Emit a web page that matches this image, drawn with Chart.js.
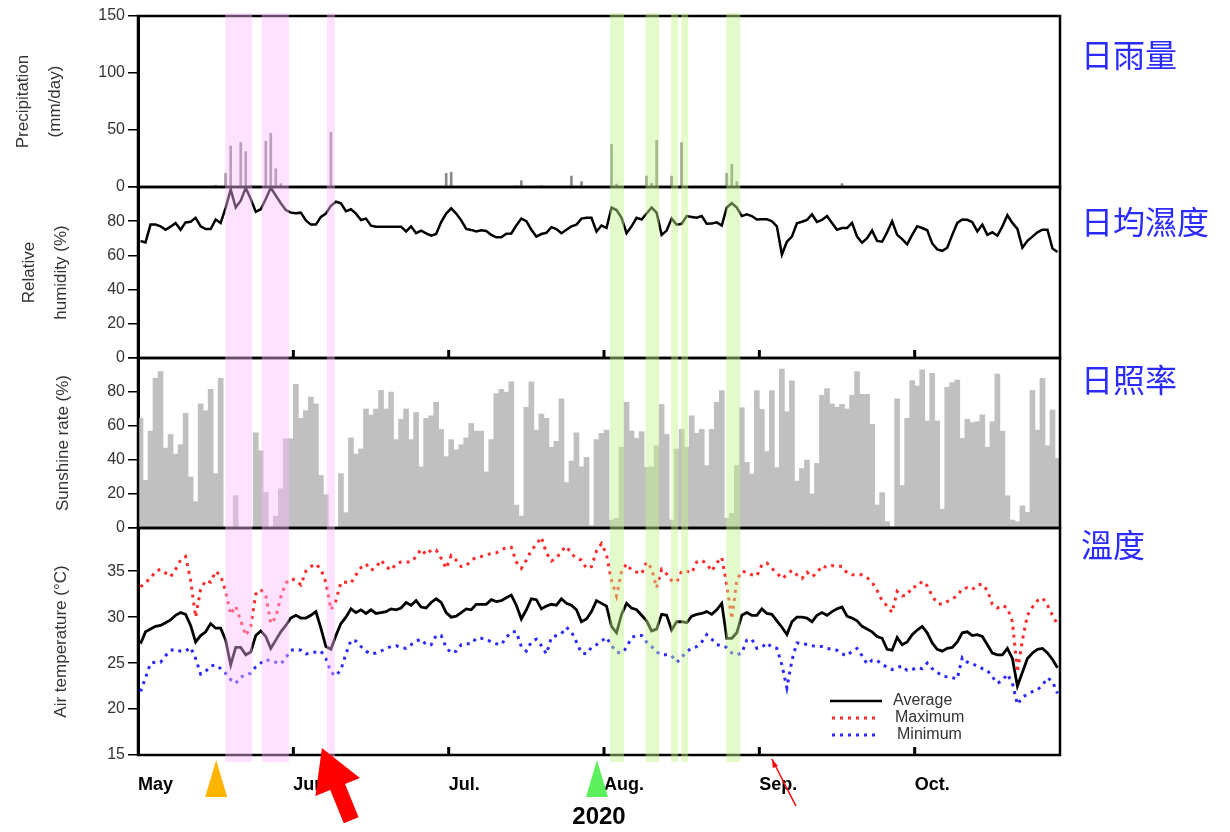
<!DOCTYPE html>
<html>
<head>
<meta charset="utf-8">
<script src="https://cdn.jsdelivr.net/npm/chart.js@4.4.1/dist/chart.umd.min.js"></script>
<style>
  body { margin: 0; background: #fff; }
  #wrap { position: relative; width: 1230px; height: 832px; }
  #wrap canvas { position: absolute; left: 0; top: 0; }
</style>
</head>
<body>
<div id="wrap">
  <canvas id="rain" width="1230" height="832"></canvas>
  <canvas id="humid" width="1230" height="832"></canvas>
  <canvas id="sun" width="1230" height="832"></canvas>
  <canvas id="temp" width="1230" height="832"></canvas>
</div>
<script>
// x axis: days since May 1, 2020 (184 days)
const monthLabels = ['May', 'Jun.', 'Jul.', 'Aug.', 'Sep.', 'Oct.'];
const monthTicks = [0, 31, 62, 93, 124, 155];

// daily rain (mm/day), only rainy days
const rainDays = [15, 17, 18, 20, 21, 22, 25, 26, 27, 28, 38, 61, 62, 75, 76, 80, 86, 88, 94, 95,
  101, 102, 103, 106, 108, 117, 118, 119, 140];
const rainValues = [1.5, 12, 36, 39, 31, 1.5, 40, 47, 16, 3, 48, 12, 13, 1, 5.5, 1, 9.6, 4.7, 37.4, 2.6,
  9.6, 3.2, 41, 9.6, 39, 12, 20, 4.7, 3];

// relative humidity (%)
const humidity = [
  68.4, 67.6, 78, 78, 77, 75, 76.8, 79, 75, 79.3,
  79.7, 82, 77, 75.4, 75.4, 81, 79, 88, 98.6, 88,
  92, 99.5, 93, 85.5, 87, 93, 99.5, 95, 90.5, 86.5,
  85, 84.6, 85, 80.5, 78, 78, 82.5, 84.5, 89, 91.4,
  90.4, 85.8, 87, 84.4, 80.7, 81.5, 77.4, 76.8, 76.8, 76.8,
  76.8, 76.8, 76.8, 74, 77, 73, 74.5, 72.9, 71.5, 72.5,
  79.5, 84.5, 87.5, 84.5, 80.5, 75.5, 74.9, 74, 74.7, 74.3,
  72, 70.6, 70.6, 72.7, 72.8, 77.5, 81.5, 80, 75, 71,
  72.5, 73.2, 76.5, 75.4, 73, 75, 77, 78, 81.5, 82,
  82, 74, 77.5, 76, 88, 86.5, 82, 73, 77, 82,
  81, 84.5, 88, 85, 72, 74.5, 81.5, 78, 78.5, 83,
  82.5, 82, 83, 78.5, 78.6, 79.3, 77.5, 88, 90.5, 88,
  83, 84, 83, 81, 81.1, 81.1, 80, 77, 60.5, 68,
  71, 78.8, 79.7, 80.7, 84, 79.5, 80.7, 83, 79, 75,
  76, 76, 79, 71, 67.4, 70, 74.5, 68.5, 68, 73.5,
  80, 72, 69.5, 66.5, 72, 77, 76, 74.7, 67, 63.5,
  62.7, 64.5, 72, 79, 81, 80.8, 79.4, 74, 78, 72,
  73.5, 71.5, 77, 83.5, 79, 75.5, 64.5, 68.5, 71, 73.5,
  75, 75, 64, 62
];

// sunshine rate (%)
const sunshine = [
  64.5, 28, 57, 88, 92, 47, 55, 43.5, 49, 67.5,
  30, 15.5, 73, 69, 81.5, 32, 88, 0, 0, 19,
  0, 0, 0, 56, 45.5, 21, 0, 7, 23, 52.5,
  52.5, 84.5, 64.5, 69, 77, 73, 31, 19.6, 0, 0,
  32, 9, 53, 43.5, 46.5, 70, 66.5, 70, 81, 70,
  80, 52, 64, 70, 52, 68, 36, 64.5, 66, 74,
  58, 42, 52, 46, 49, 53, 61.5, 57, 57, 33,
  52, 79, 81.5, 80, 86, 13.5, 7, 71, 86, 57.6,
  67, 64.5, 47.5, 51, 76, 26.7, 39.4, 56, 36, 41.6,
  1.4, 52, 55.7, 57.6, 4.7, 5.7, 47.5, 74, 57, 52.7,
  56.7, 35.7, 36, 48.4, 72.7, 55, 4.7, 46.5, 58, 47.5,
  66, 55.7, 58, 36.7, 58, 74, 80.8, 5.7, 8.6, 36.7,
  70.8, 38.6, 31.8, 80.8, 69.8, 45, 80.8, 35.5, 93.5, 68.4,
  86.5, 27.6, 35, 40, 20, 38, 78, 82, 73, 71,
  72.7, 70, 78, 92, 78.6, 78.6, 61, 13.5, 20.8, 3.7,
  0.8, 76, 25, 64.5, 86.7, 83.5, 93, 63, 91, 63,
  11, 82.7, 85.5, 87, 52.7, 64, 62, 62.5, 66.5, 47.5,
  62.5, 90.6, 57, 19, 4.7, 3.7, 13, 9.2, 81, 57.6,
  88, 48.4, 69.4, 41
];

// air temperature (°C)
const tempAvg = [
  27.1, 28.4, 28.7, 29, 29.1, 29.4, 29.7, 30.2, 30.5, 30.3,
  29.1, 27.3, 28, 28.4, 29.3, 28.8, 28.8, 27.5, 24.8, 26.7,
  26.7, 25.9, 26.2, 28, 28.5, 27.9, 26.6, 27.5, 28.4, 29.1,
  29.9, 30.2, 29.9, 29.9, 30.2, 30.6, 28.8, 26.8, 26.5, 28,
  29.3, 30, 30.9, 30.5, 30.8, 30.4, 30.8, 30.4, 30.5, 30.6,
  30.9, 30.8, 31, 31.6, 31.3, 31.8, 31.1, 31, 31.6, 32,
  31.6, 30.5, 30, 30.1, 30.5, 30.9, 30.8, 31.4, 31.4, 31.4,
  31.9, 31.7, 31.8, 32.1, 32.4, 31.3, 29.8, 30.8, 32, 31.9,
  30.9, 31.2, 31.4, 31.3, 32, 31.5, 31.3, 30.8, 29.5, 29.8,
  30.6, 31.8, 31.5, 31.2, 29, 28.3, 30.3, 31.5, 31, 30.8,
  30.2, 29.6, 28.5, 28.7, 30.3, 30.2, 28.6, 29.5, 29.5, 29.4,
  30.1, 30.3, 30.4, 30.6, 30.3, 30.8, 31.5, 27.7, 27.7, 28.3,
  30.2, 30.5, 30.2, 30.2, 30.9, 30.4, 30.3, 29.6, 28.9, 28.1,
  29.5, 30, 30, 29.9, 29.5, 30.2, 30.5, 30.2, 30.6, 30.9,
  31.1, 30.1, 29.9, 29.6, 29, 28.7, 28.4, 27.9, 27.7, 26.5,
  26.4, 27.8, 27, 27.3, 28.1, 28.6, 29, 28.3, 27.2, 26.5,
  26.3, 26.6, 26.7, 27.3, 28.3, 28.4, 28, 28.1, 27.9, 27,
  26.1, 25.9, 25.9, 26.6, 25.5, 22.5, 24, 25.5, 26.1, 26.5,
  26.6, 26.1, 25.4, 24.5
];
const tempMax = [
  33.3, 33.8, 34.2, 35, 35.2, 34.8, 34.4, 35.2, 36.2, 36.6,
  34, 30, 33, 34, 33.8, 35, 34.5, 32.8, 30.3, 31.2,
  29.6, 28, 29, 32.5, 33, 32.4, 29.3, 30, 32.2, 33.7,
  34.2, 34, 33.5, 35, 35.5, 35.8, 35.2, 33.8, 30.8, 31.8,
  33.8, 33.8, 33.7, 34.6, 35.4, 35.8, 35.1, 35.4, 36.2, 35.5,
  35.1, 35.8, 36, 36, 36, 36.6, 37.4, 36.8, 37.3, 37.3,
  36.4, 35.3, 36.7, 36.2, 35.5, 35.6, 36.2, 36.5, 36.6, 36.8,
  36.9, 37, 37.3, 37.6, 37.6, 36, 35.3, 36.2, 37.3, 37.9,
  38.7, 37, 36.1, 36.4, 37.2, 37.7, 36.9, 36.4, 36.2, 35.3,
  35.5, 37.2, 38, 36.8, 34, 32.3, 35, 35.8, 35.1, 34.9,
  34.7, 36, 35.3, 33.2, 35.2, 34.7, 34, 33.8, 35, 35,
  34.8, 36, 36.2, 35.8, 35, 35.9, 36.5, 33.5, 29.8, 34,
  35, 34.9, 34.6, 34.5, 35.7, 35.9, 35.3, 34.8, 34.2, 34.6,
  35.1, 34.6, 34.2, 34.9, 34.4, 34.8, 35.6, 35.4, 35.6, 35.6,
  35.5, 34.8, 34.6, 34.6, 34.6, 34.3, 33.8, 32.9, 31.8, 31.2,
  30.5, 32.8, 32.3, 32.4, 33.3, 33.3, 33.9, 33.4, 32.3, 31.5,
  31.4, 31.7, 32, 32.3, 33.1, 33.2, 33, 33.5, 33.6, 32.9,
  31.4, 31, 31.3, 31, 29.5, 24, 27.5, 30.2, 31.1, 31.8,
  32.1, 31.3, 30.2, 29.2
];
const tempMin = [
  21.9, 23.4, 25, 25.1, 25.1, 25.8, 26.4, 26.5, 26.3, 26.3,
  26.7, 25.5, 23.8, 24.1, 24.7, 24.8, 24.4, 23.9, 23.2, 22.8,
  23.5, 23.7, 23.9, 24.6, 25, 25.4, 25.2, 25.1, 24.9, 25.6,
  26.4, 26.5, 26.4, 26, 26.1, 26.2, 26.3, 25.5, 24, 23.6,
  24.3, 26, 27.5, 27.4, 26.8, 26.3, 26, 26.1, 26.3, 26.6,
  26.8, 26.9, 26.7, 26.6, 27, 27.4, 27.6, 27, 27, 28,
  28, 26.7, 26.1, 26.3, 27, 27.1, 27.1, 27.7, 27.7, 27.6,
  27.3, 27.1, 27, 27.8, 28.4, 28.4, 26.8, 26.3, 27.3, 27.6,
  26.9, 26, 27.8, 28, 28.2, 28.9, 28.4, 27.3, 26.1, 26,
  26.7, 27, 27.4, 27.8, 26.9, 26.2, 26.1, 26.7, 27.8, 28,
  28, 27.3, 26.8, 26.2, 25.9, 25.9, 25.8, 25.1, 25.6, 26.3,
  26.6, 26.8, 27.3, 28.1, 27.6, 27, 26.9, 26.7, 26.1, 25.9,
  26.1, 27.5, 27.6, 26.6, 26.7, 27.2, 26.7, 26.6, 24.8, 22.3,
  25.3, 27.2, 27.2, 27, 26.9, 26.8, 26.8, 26.6, 26.5, 26.4,
  26, 25.8, 26.3, 26.6, 25.8, 24.9, 25.3, 25.3, 24.8, 24.6,
  24.3, 24.5, 24.7, 24.2, 24.3, 24.5, 24.4, 25, 24.4, 24,
  23.6, 23.5, 23.4, 23.3, 25.6, 25.1, 24.9, 24.7, 24.4, 24.2,
  23.5, 22.8, 23.1, 23.8, 22.8, 20.5, 21.3, 21.6, 21.9, 22.1,
  22.6, 23.4, 23, 21.7
];

// shaded rain events (day ranges)
const pinkBands = [[17.4, 22.8], [24.7, 30.1], [37.7, 39.3]];
const greenBands = [[94.2, 97.0], [101.3, 104.0], [106.4, 107.8], [108.4, 109.8], [117.4, 120.2]];
// arrows under the axis (day)
const markerDays = { orange: 15.6, bigArrow: 36.7, green: 91.6, thinArrow: 126.5 };

const panelNames = ['日雨量', '日均濕度', '日照率', '溫度'];

Chart.defaults.font.family = "'Liberation Sans', Arial, sans-serif";
Chart.defaults.color = '#333';
Chart.defaults.animation = false;
Chart.defaults.events = [];
Chart.defaults.plugins.legend.display = false;
Chart.defaults.plugins.tooltip.enabled = false;

const pts = arr => arr.map((v, i) => ({ x: i + 0.5, y: v }));

function yAxis(min, max, step, title, titlePad, hide) {
  return {
    position: 'left',
    min: min, max: max,
    afterFit: s => { s.width = 138; },
    border: { display: true, color: '#000', width: 3 },
    grid: { drawOnChartArea: false, color: '#000', tickLength: 10, lineWidth: 1.5 },
    ticks: {
      stepSize: step, padding: 3, color: '#333', font: { size: 16 },
      callback: v => hide(v) ? '' : v
    },
    title: {
      display: true, text: title, color: '#333',
      font: { size: 17, lineHeight: 1.85 },
      padding: { top: titlePad, bottom: 0 }
    }
  };
}

const hiddenX = () => ({ type: 'linear', min: 0, max: 184, offset: false, display: false });

const framePlugin = {
  id: 'frame',
  afterDraw(chart, args, opts) {
    const { ctx, chartArea: a } = chart;
    ctx.save();
    ctx.strokeStyle = '#000';
    ctx.lineWidth = 2.5;
    ctx.strokeRect(a.left, a.top, a.right - a.left, a.bottom - a.top);
    if (opts.inTicks) {
      const xs = chart.scales.x;
      ctx.lineWidth = 3;
      monthTicks.slice(1).forEach(t => {
        const px = xs.getPixelForValue(t);
        ctx.beginPath();
        ctx.moveTo(px, a.bottom);
        ctx.lineTo(px, a.bottom - 8);
        ctx.stroke();
      });
    }
    ctx.fillStyle = '#2b2bff';
    ctx.font = "32px 'Noto Sans CJK TC'";
    ctx.textBaseline = 'middle';
    ctx.fillText(opts.label, a.right + 21, a.top + opts.labelDy);
    ctx.restore();
  }
};

function panelOptions(top, bottom, x, y, frame) {
  return {
    responsive: false,
    layout: { padding: { left: 0, right: 170, top: top, bottom: bottom } },
    scales: { x: x, y: y },
    plugins: { frame: frame }
  };
}

const rainChart = new Chart(document.getElementById('rain'), {
  type: 'bar',
  data: {
    datasets: [{
      data: rainDays.map((d, i) => ({ x: d + 0.5, y: rainValues[i] })),
      backgroundColor: '#8a8a8a',
      barThickness: 2
    }]
  },
  options: panelOptions(16, 832 - 187, hiddenX(),
    yAxis(0, 150, 50, ['Precipitation', '(mm/day)'], 8, v => false),
    { label: panelNames[0], labelDy: 39 }),
  plugins: [framePlugin]
});

new Chart(document.getElementById('humid'), {
  type: 'line',
  data: {
    datasets: [{
      data: pts(humidity),
      borderColor: '#000', borderWidth: 2.5, pointRadius: 0, tension: 0
    }]
  },
  options: panelOptions(187, 832 - 358, hiddenX(),
    yAxis(0, 100, 20, ['Relative', 'humidity (%)'], 14, v => v === 100),
    { label: panelNames[1], labelDy: 35, inTicks: true }),
  plugins: [framePlugin]
});

new Chart(document.getElementById('sun'), {
  type: 'bar',
  data: {
    datasets: [{
      data: pts(sunshine),
      backgroundColor: '#c0c0c0',
      barPercentage: 1, categoryPercentage: 1
    }]
  },
  options: panelOptions(358, 832 - 528, hiddenX(),
    yAxis(0, 100, 20, 'Sunshine rate (%)', 48, v => v === 100),
    { label: panelNames[2], labelDy: 22 }),
  plugins: [framePlugin]
});

const overlayPlugin = {
  id: 'overlay',
  afterDraw(chart) {
    const { ctx, chartArea: a } = chart;
    const xs = chart.scales.x;
    const top = rainChart.chartArea.top - 3;
    const bottom = a.bottom + 7;
    ctx.save();
    // shaded events
    const band = (list, color) => {
      ctx.fillStyle = color;
      list.forEach(([d0, d1]) => {
        const x0 = xs.getPixelForValue(d0), x1 = xs.getPixelForValue(d1);
        ctx.fillRect(x0, top, x1 - x0, bottom - top);
      });
    };
    band(pinkBands, 'rgba(255, 185, 255, 0.42)');
    band(greenBands, 'rgba(195, 245, 140, 0.45)');

    // legend
    const lx = a.right - 230, tx = a.right - 167;
    const rows = [
      { y: a.bottom - 54, text: 'Average', color: '#000', dash: [], w: 52, dx: 0 },
      { y: a.bottom - 37, text: 'Maximum', color: '#ff2a2a', dash: [3, 5], w: 46, dx: 2 },
      { y: a.bottom - 20, text: 'Minimum', color: '#2a2aff', dash: [3, 5], w: 46, dx: 4 }
    ];
    ctx.font = "16px 'Liberation Sans', Arial, sans-serif";
    ctx.textBaseline = 'middle';
    rows.forEach(r => {
      ctx.strokeStyle = r.color;
      ctx.lineWidth = r.dash.length ? 3 : 2.5;
      ctx.setLineDash(r.dash);
      ctx.beginPath();
      ctx.moveTo(lx + (r.dash.length ? 2 : 0), r.y);
      ctx.lineTo(lx + r.w, r.y);
      ctx.stroke();
      ctx.fillStyle = '#333';
      ctx.fillText(r.text, tx + r.dx, r.y);
    });
    ctx.setLineDash([]);

    // triangles under the axis
    const tri = (day, color) => {
      const px = xs.getPixelForValue(day);
      ctx.fillStyle = color;
      ctx.beginPath();
      ctx.moveTo(px, a.bottom + 5);
      ctx.lineTo(px + 11, a.bottom + 42);
      ctx.lineTo(px - 11, a.bottom + 42);
      ctx.closePath();
      ctx.fill();
    };
    tri(markerDays.orange, '#ffb400');
    tri(markerDays.green, '#5cf05c');

    // big red arrow
    const bx = xs.getPixelForValue(markerDays.bigArrow), by = a.bottom - 7;
    const ux = -0.375, uy = -0.927, nx = 0.927, ny = -0.375;
    const hx = bx - ux * 42, hy = by - uy * 42;
    const ex = hx - ux * 36, ey = hy - uy * 36;
    ctx.fillStyle = '#ff0000';
    ctx.beginPath();
    ctx.moveTo(bx, by);
    ctx.lineTo(hx + nx * 24, hy + ny * 24);
    ctx.lineTo(hx + nx * 8, hy + ny * 8);
    ctx.lineTo(ex + nx * 8, ey + ny * 8);
    ctx.lineTo(ex - nx * 8, ey - ny * 8);
    ctx.lineTo(hx - nx * 8, hy - ny * 8);
    ctx.lineTo(hx - nx * 24, hy - ny * 24);
    ctx.closePath();
    ctx.fill();

    // thin red arrow
    const sx = xs.getPixelForValue(markerDays.thinArrow), sy = a.bottom + 4;
    ctx.strokeStyle = '#ff0000';
    ctx.lineWidth = 1.5;
    ctx.beginPath();
    ctx.moveTo(sx + 24, sy + 47);
    ctx.lineTo(sx, sy);
    ctx.stroke();
    ctx.beginPath();
    ctx.moveTo(sx, sy);
    ctx.lineTo(sx + 1, sy + 9);
    ctx.lineTo(sx + 6, sy + 7);
    ctx.closePath();
    ctx.fillStyle = '#ff0000';
    ctx.fill();
    ctx.restore();
  }
};

new Chart(document.getElementById('temp'), {
  type: 'line',
  data: {
    datasets: [
      { data: pts(tempMax), borderColor: '#ff2a2a', borderWidth: 3, borderDash: [3, 5], pointRadius: 0, tension: 0 },
      { data: pts(tempMin), borderColor: '#2a2aff', borderWidth: 3, borderDash: [3, 5], pointRadius: 0, tension: 0 },
      { data: pts(tempAvg), borderColor: '#000', borderWidth: 2.8, pointRadius: 0, tension: 0 }
    ]
  },
  options: panelOptions(528, 0, {
      type: 'linear', min: 0, max: 184, offset: false, position: 'bottom',
      afterFit: s => { s.height = 77; },
      afterBuildTicks: s => { s.ticks = monthTicks.map(v => ({ value: v })); },
      grid: { display: false, drawTicks: false },
      border: { display: false },
      ticks: {
        autoSkip: false, maxRotation: 0, align: 'start', padding: 19,
        color: '#000', font: { size: 18, weight: 'bold' },
        callback: (v, i) => monthLabels[i]
      },
      title: { display: true, text: '2020', color: '#000', font: { size: 24, weight: 'bold' }, padding: 0 }
    },
    yAxis(15, 39.7, 5, 'Air temperature (°C)', 46, v => v > 36),
    { label: panelNames[3], labelDy: 17, inTicks: true }),
  plugins: [framePlugin, overlayPlugin]
});
</script>
</body>
</html>
